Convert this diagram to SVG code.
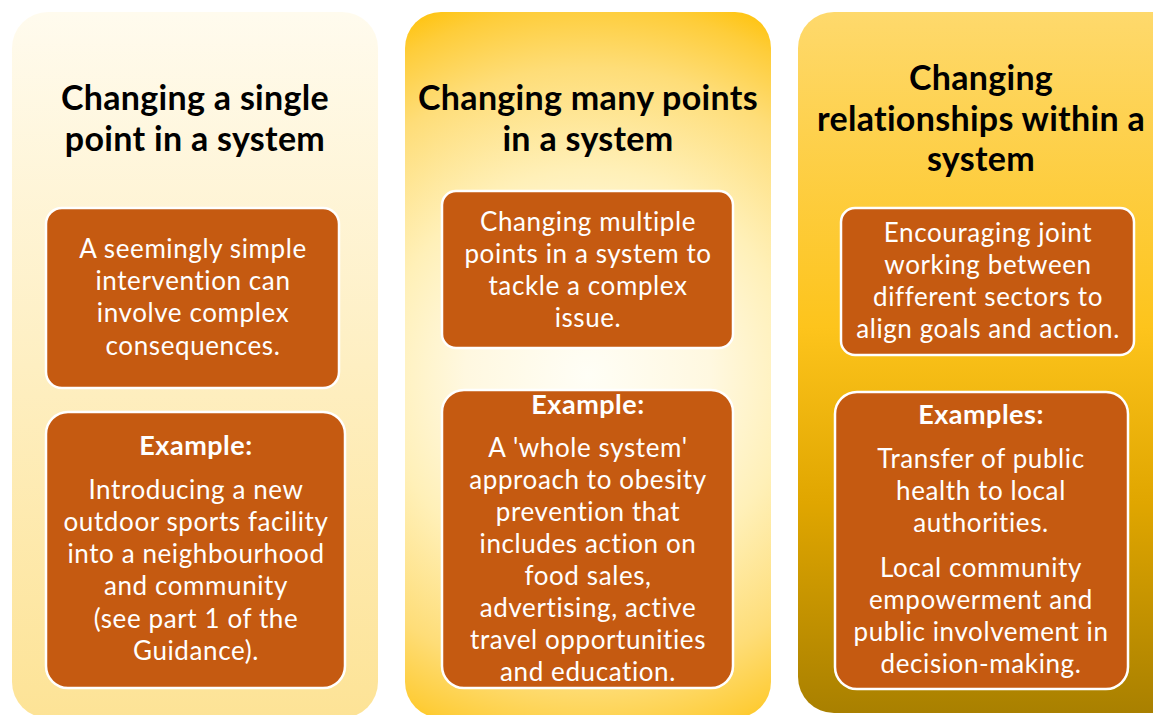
<svg xmlns="http://www.w3.org/2000/svg" width="1153" height="715" viewBox="0 0 1153 715">
<defs>
<linearGradient id="g1" x1="0" y1="0" x2="0" y2="1">
<stop offset="0" stop-color="#fffbee"/>
<stop offset="1" stop-color="#fde396"/>
</linearGradient>
<radialGradient id="g2" gradientUnits="userSpaceOnUse" cx="588" cy="375" r="410">
<stop offset="0" stop-color="#fffef6"/>
<stop offset="0.3" stop-color="#fff8e0"/>
<stop offset="0.5" stop-color="#fff0b8"/>
<stop offset="0.75" stop-color="#fedd78"/>
<stop offset="0.9" stop-color="#fecd3a"/>
<stop offset="1" stop-color="#ffc000"/>
</radialGradient>
<linearGradient id="g3" x1="0" y1="0" x2="0" y2="1">
<stop offset="0" stop-color="#fed96c"/>
<stop offset="0.45" stop-color="#fdc41c"/>
<stop offset="0.7" stop-color="#e0a600"/>
<stop offset="1" stop-color="#a98000"/>
</linearGradient>
</defs>
<style>
.box{fill:#c55a11;stroke:#ffffff;stroke-width:2.5}
text{font-variant-ligatures:none}
.title{font-family:Lato,"Liberation Sans",sans-serif;font-weight:bold;font-size:34px;letter-spacing:0.3px;fill:#000000;text-anchor:middle}
.body{font-family:Lato,"Liberation Sans",sans-serif;font-size:26px;letter-spacing:0.6px;fill:#ffffff;text-anchor:middle}
.head{font-family:Lato,"Liberation Sans",sans-serif;font-weight:bold;font-size:27px;letter-spacing:0.5px;fill:#ffffff;text-anchor:middle}
</style>
<rect width="1153" height="715" fill="#ffffff"/>

<g id="panel1">
<rect x="12" y="12" width="366" height="706" rx="36" fill="url(#g1)"/>
<text class="title" x="195" y="110">Changing a single</text>
<text class="title" x="195" y="151">point in a system</text>
</g>
<g id="box1a">
<rect class="box" x="46" y="208" width="293" height="180" rx="16"/>
<text class="body"><tspan x="193" y="258">A seemingly simple</tspan><tspan x="193" y="290">intervention can</tspan><tspan x="193" y="322">involve complex</tspan><tspan x="193" y="355">consequences.</tspan></text>
</g>
<g id="box1b">
<rect class="box" x="46" y="412" width="299" height="276" rx="22"/>
<text class="head" x="196" y="455">Example:</text>
<text class="body"><tspan x="196" y="499">Introducing a new</tspan><tspan x="196" y="531">outdoor sports facility</tspan><tspan x="196" y="563">into a neighbourhood</tspan><tspan x="196" y="595">and community</tspan><tspan x="196" y="628">(see part 1 of the</tspan><tspan x="196" y="660">Guidance).</tspan></text>
</g>

<g id="panel2">
<rect x="405" y="12" width="366" height="706" rx="36" fill="url(#g2)"/>
<text class="title" x="588" y="110">Changing many points</text>
<text class="title" x="588" y="151">in a system</text>
</g>
<g id="box2a">
<rect class="box" x="442" y="191" width="291" height="157" rx="14"/>
<text class="body"><tspan x="588" y="231">Changing multiple</tspan><tspan x="588" y="263">points in  a system to</tspan><tspan x="588" y="295">tackle a complex</tspan><tspan x="588" y="327">issue.</tspan></text>
</g>
<g id="box2b">
<rect class="box" x="442" y="390" width="291" height="298" rx="22"/>
<text class="head" x="588" y="414">Example:</text>
<text class="body"><tspan x="588" y="457">A 'whole system'</tspan><tspan x="588" y="489">approach to obesity</tspan><tspan x="588" y="521">prevention that</tspan><tspan x="588" y="553">includes action on</tspan><tspan x="588" y="585">food sales,</tspan><tspan x="588" y="617">advertising, active</tspan><tspan x="588" y="649">travel opportunities</tspan><tspan x="588" y="681">and education.</tspan></text>
</g>

<g id="panel3">
<rect x="798" y="12" width="400" height="701" rx="36" fill="url(#g3)"/>
<text class="title" x="981" y="90">Changing</text>
<text class="title" x="981" y="131">relationships within a</text>
<text class="title" x="981" y="171">system</text>
</g>
<g id="box3a">
<rect class="box" x="841" y="208" width="293" height="147" rx="14"/>
<text class="body"><tspan x="988" y="242">Encouraging joint</tspan><tspan x="988" y="274">working between</tspan><tspan x="988" y="306">different sectors to</tspan><tspan x="988" y="338">align goals and action.</tspan></text>
</g>
<g id="box3b">
<rect class="box" x="835" y="392" width="293" height="297" rx="22"/>
<text class="head" x="981" y="424">Examples:</text>
<text class="body"><tspan x="981" y="468">Transfer of public</tspan><tspan x="981" y="500">health to local</tspan><tspan x="981" y="532">authorities.</tspan><tspan x="981" y="577">Local community</tspan><tspan x="981" y="609">empowerment and</tspan><tspan x="981" y="641">public involvement in</tspan><tspan x="981" y="673">decision-making.</tspan></text>
</g>
</svg>
